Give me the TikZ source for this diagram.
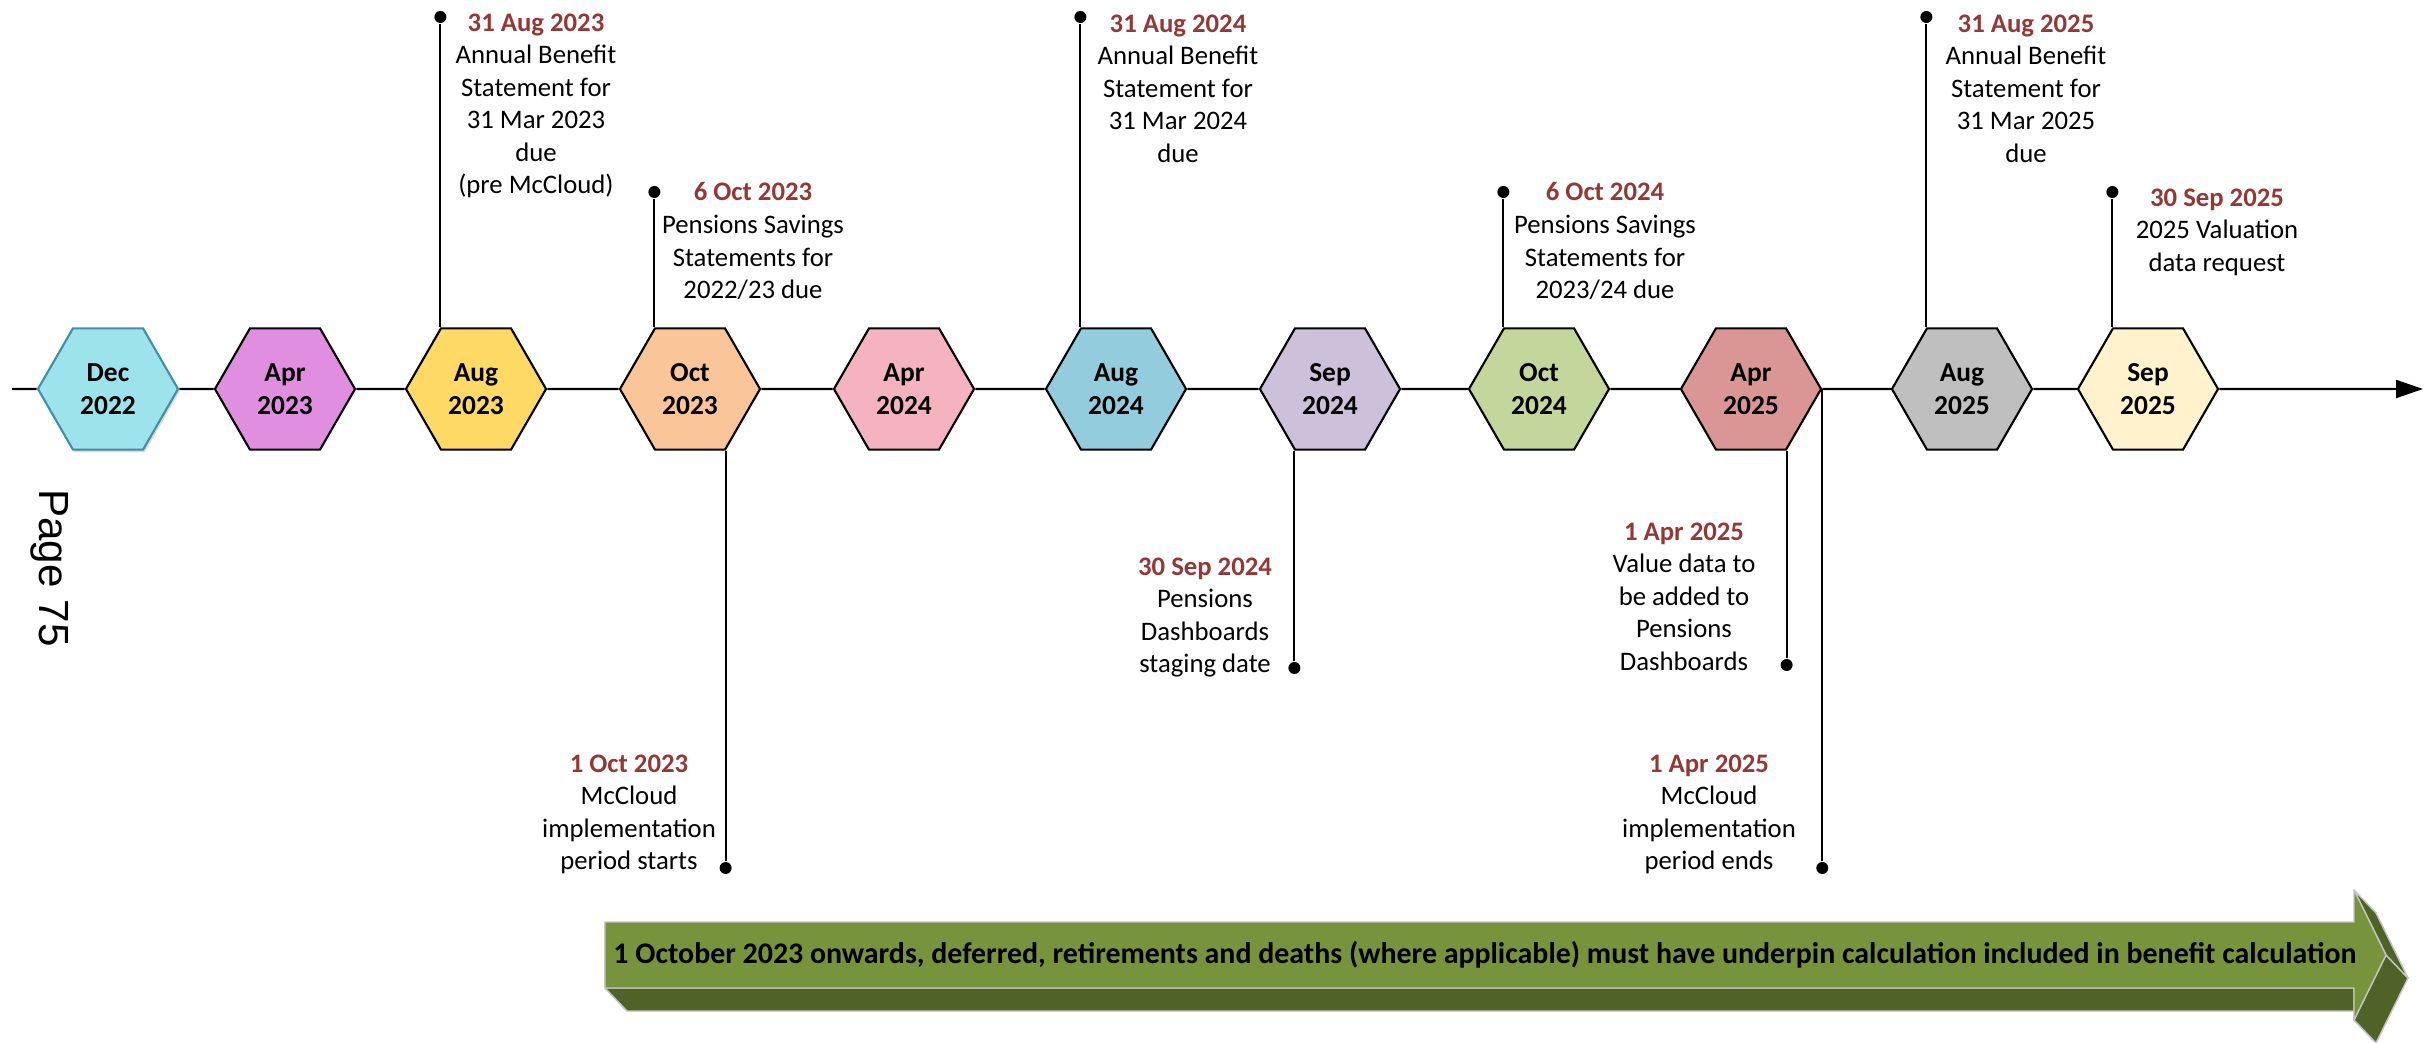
\documentclass[tikz,border=0pt]{standalone}
\usepackage{fontspec}
\setmainfont{Carlito}
\newfontfamily\pagefont{Liberation Sans}
\usepackage{xcolor}
\usepackage{tikz}
\usetikzlibrary{shapes.geometric,arrows.meta,backgrounds,shadows}

\definecolor{datered}{HTML}{953735}
\definecolor{hxdec}{HTML}{9DE3EB}
\definecolor{hxdecline}{HTML}{3F8FA6}
\definecolor{hxaprA}{HTML}{E08FE0}
\definecolor{hxaugA}{HTML}{FFD966}
\definecolor{hxoctA}{HTML}{F9C599}
\definecolor{hxaprB}{HTML}{F4B3BE}
\definecolor{hxaugB}{HTML}{93CDDD}
\definecolor{hxsepB}{HTML}{CCC0DA}
\definecolor{hxoctB}{HTML}{C3D69B}
\definecolor{hxaprC}{HTML}{D99694}
\definecolor{hxaugC}{HTML}{BFBFBF}
\definecolor{hxsepC}{HTML}{FFF2CC}
\definecolor{bandfront}{HTML}{77933C}
\definecolor{bandside}{HTML}{4F6228}
\definecolor{bandedge}{HTML}{C4C4C4}

\tikzset{
  hex/.style={regular polygon, regular polygon sides=6, minimum size=1.4cm,
    inner sep=0pt, draw=black, line width=0.6pt, align=center,
    font=\fontsize{7.8}{9.25}\selectfont\bfseries},
  pin/.style={circle, fill=black, inner sep=0pt, minimum size=0.12cm},
  stem/.style={line width=0.6pt},
  note/.style={align=center, inner sep=0pt, anchor=north,
    font=\fontsize{7.6}{9.25}\selectfont},
}
\newcommand{\datehead}[1]{\textcolor{datered}{\bfseries #1}}

\begin{document}
\begin{tikzpicture}[x=0.01cm, y=-0.01cm]
  \useasboundingbox (0,0) rectangle (2429,1043);
  \coordinate (tls) at (12,389);
  \coordinate (tle) at (2423,389);
  % month hexagons
  \node[hex, fill=hxdec, draw=hxdecline,
    drop shadow={shadow xshift=0.5pt, shadow yshift=-0.7pt, opacity=0.3}]
    (dec) at (108,389) {Dec\\2022};
  \foreach \n/\x/\m/\yr/\c in {aprA/285/Apr/2023/hxaprA, augA/476/Aug/2023/hxaugA,
      octA/690/Oct/2023/hxoctA, aprB/904/Apr/2024/hxaprB, augB/1116/Aug/2024/hxaugB,
      sepB/1330/Sep/2024/hxsepB, octB/1539/Oct/2024/hxoctB, aprC/1751/Apr/2025/hxaprC,
      augC/1962/Aug/2025/hxaugC, sepC/2148/Sep/2025/hxsepC} {
    \node[hex, fill=\c] (\n) at (\x,389) {\m\\\yr};
  }
  \begin{pgfonlayer}{background}
    \draw[line width=0.6pt, -{Triangle[length=0.27cm, width=0.18cm]}]
      (tls) -- (dec) -- (aprA) -- (augA) -- (octA) -- (aprB) -- (augB)
      -- (sepB) -- (octB) -- (aprC) -- (augC) -- (sepC) -- (tle);
  \end{pgfonlayer}

  % pins above and below the line
  \foreach \h/\a/\p/\y in {augA/120/pA/17, octA/120/pB/192, augB/120/pC/17,
      octB/120/pD/192, augC/120/pE/17, sepC/120/pF/192, octA/300/pG/868,
      sepB/240/pH/668, aprC/300/pI/665, aprC/0/pJ/868} {
    \node[pin] (\p) at (\h.\a |- 0,\y) {};
    \draw[stem] (\h.\a) -- (\p);
  }

  \node[note] (nA) at (536,13) {\datehead{31 Aug 2023}\\Annual Benefit\\Statement for\\31 Mar 2023\\due\\(pre McCloud)};
  \node[note] (nB) at (753,182) {\datehead{6 Oct 2023}\\Pensions Savings\\Statements for\\2022/23 due};
  \node[note] (nC) at (1178,14) {\datehead{31 Aug 2024}\\Annual Benefit\\Statement for\\31 Mar 2024\\due};
  \node[note] (nD) at (1605,182) {\datehead{6 Oct 2024}\\Pensions Savings\\Statements for\\2023/24 due};
  \node[note] (nE) at (2026,14) {\datehead{31 Aug 2025}\\Annual Benefit\\Statement for\\31 Mar 2025\\due};
  \node[note] (nF) at (2217,188) {\datehead{30 Sep 2025}\\2025 Valuation\\data request};
  \node[note] (nG) at (629,754) {\datehead{1 Oct 2023}\\McCloud\\implementation\\period starts};
  \node[note] (nH) at (1205,557) {\datehead{30 Sep 2024}\\Pensions\\Dashboards\\staging date};
  \node[note] (nI) at (1684,522) {\datehead{1 Apr 2025}\\Value data to\\be added to\\Pensions\\Dashboards};
  \node[note] (nJ) at (1709,754) {\datehead{1 Apr 2025}\\McCloud\\implementation\\period ends};

  \node[rotate=-90, font=\pagefont\fontsize{12}{14}\selectfont] (pg) at (50,568) {Page 75};

  % 3-D band arrow
  \foreach \ax/\ay/\bx/\by in {605/922/605/988, 605/988/2354/988, 2354/988/2354/1020,
      2354/1020/2386/955, 2386/955/2354/890} {
    \filldraw[fill=bandside, draw=bandedge, line width=0.4pt, line join=round]
      (\ax,\ay) -- (\bx,\by) -- ++(22,23) -- (\ax+22,\ay+23) -- cycle;
  }
  \filldraw[fill=bandfront, draw=bandedge, line width=0.4pt, line join=round]
    (605,922) -- (2354,922) -- (2354,890) -- (2386,955) -- (2354,1020)
    -- (2354,988) -- (605,988) -- cycle;
  \node[font=\fontsize{8.5}{10}\selectfont\bfseries] (band) at (1485,955)
    {1 October 2023 onwards, deferred, retirements and deaths (where applicable) must have underpin calculation included in benefit calculation};
\end{tikzpicture}
\end{document}
